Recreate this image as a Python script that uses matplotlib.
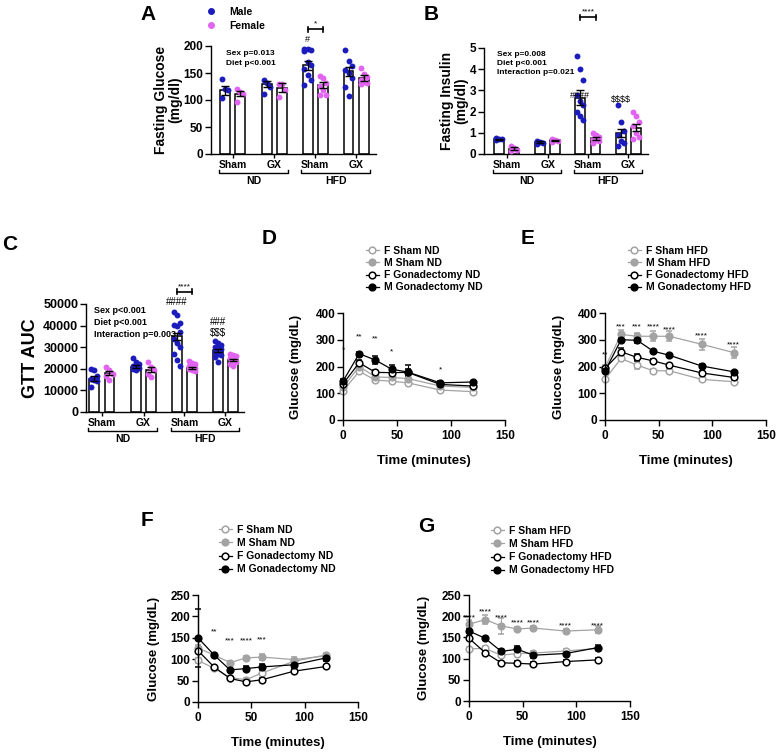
import numpy as np
import matplotlib
matplotlib.use('Agg')
import matplotlib.pyplot as plt
import matplotlib.transforms as mtransforms
from matplotlib.lines import Line2D

plt.rcParams['font.family'] = ['Liberation Sans', 'DejaVu Sans']
plt.rcParams['font.weight'] = 'bold'
plt.rcParams['axes.labelweight'] = 'bold'
plt.rcParams['axes.linewidth'] = 1.0
plt.rcParams['text.parse_math'] = False

W, H = 777, 754
MALE = '#1c1cbd'
FEMALE = '#e164f0'
GREY = '#a3a3a3'

# ---- bar panels (order: ND Sham, ND GX, HFD Sham, HFD GX)
group_labels = ['Sham', 'GX', 'Sham', 'GX']
diet_labels = ['ND', 'HFD']

glucose_m = [118, 130, 164, 153]
glucose_m_err = [8, 6, 8, 9]
glucose_f = [112, 123, 128, 141]
glucose_f_err = [5, 8, 6, 6]
glucose_m_pts = [[138, 121, 118, 103], [137, 131, 125, 112],
                 [195, 194, 193, 190, 171, 165, 157, 146, 137, 128],
                 [192, 172, 163, 156, 150, 140, 125, 108]]
glucose_f_pts = [[121, 115, 112, 97], [130, 130, 118, 106],
                 [145, 140, 131, 126, 118, 110, 110],
                 [160, 148, 142, 137, 133, 131, 129]]

insulin_m = [0.70, 0.55, 2.65, 1.00]
insulin_m_err = [0.03, 0.04, 0.35, 0.2]
insulin_f = [0.25, 0.65, 0.75, 1.25]
insulin_f_err = [0.06, 0.03, 0.07, 0.15]
insulin_m_pts = [[0.75, 0.72, 0.70, 0.65], [0.60, 0.55, 0.50, 0.45],
                 [4.6, 4.0, 3.5, 2.8, 2.5, 2.3, 2.0, 1.8, 1.6],
                 [2.3, 1.5, 1.1, 0.9, 0.6, 0.5, 0.4]]
insulin_f_pts = [[0.40, 0.30, 0.18, 0.12], [0.70, 0.66, 0.62, 0.58],
                 [1.0, 0.9, 0.8, 0.7, 0.65, 0.6, 0.5],
                 [2.0, 1.8, 1.5, 1.3, 1.0, 0.8, 0.7]]

auc_m = [15500, 21000, 35000, 28500]
auc_m_err = [1200, 600, 1800, 700]
auc_f = [18000, 19500, 20500, 24000]
auc_f_err = [1000, 1200, 500, 600]
auc_m_pts = [[20000, 19500, 16500, 15500, 15000, 14500, 11500],
             [25000, 23000, 22000, 21500, 21000, 20500, 20000, 19500],
             [46500, 45000, 41000, 40500, 40000, 37000, 34000, 32000, 30000, 27000, 24000, 21500],
             [33000, 32000, 31000, 30000, 29500, 29000, 28000, 27000, 26500, 25500, 23000]]
auc_f_pts = [[21000, 19500, 17500, 16500, 15000],
             [23000, 21000, 19500, 17500, 16000],
             [23500, 22500, 22000, 21500, 21000, 20500, 20000, 19500, 19000],
             [27000, 26500, 26000, 25000, 24000, 23000, 22000, 21500]]

# ---- time courses
time_min = [0, 15, 30, 45, 60, 90, 120]
nd_labels = ['F Sham ND', 'M Sham ND', 'F Gonadectomy ND', 'M Gonadectomy ND']
hfd_labels = ['F Sham HFD', 'M Sham HFD', 'F Gonadectomy HFD', 'M Gonadectomy HFD']

gtt_nd = [[108, 182, 149, 145, 139, 112, 106],
          [122, 200, 161, 159, 155, 127, 122],
          [135, 214, 178, 177, 178, 133, 127],
          [145, 248, 224, 190, 179, 139, 142]]
gtt_nd_err = [[8, 8, 8, 8, 8, 6, 6],
              [10, 10, 10, 8, 8, 8, 6],
              [8, 10, 10, 10, 12, 8, 6],
              [10, 8, 15, 15, 25, 8, 5]]
gtt_nd_stars = [(0, '*', 262), (15, '**', 312), (30, '**', 303), (45, '*', 255), (90, '*', 186)]

gtt_hfd = [[152, 230, 205, 184, 184, 152, 143],
           [196, 320, 313, 313, 313, 283, 252],
           [193, 255, 234, 221, 205, 176, 159],
           [183, 300, 298, 257, 242, 202, 180]]
gtt_hfd_err = [[6, 8, 15, 6, 6, 6, 6],
               [8, 15, 12, 18, 18, 20, 20],
               [6, 15, 12, 8, 6, 6, 6],
               [8, 8, 12, 6, 6, 6, 5]]
gtt_hfd_stars = [(0, '**', 245), (15, '***', 348), (30, '***', 348), (45, '****', 348),
                 (60, '****', 338), (90, '****', 314), (120, '****', 282)]

itt_nd = [[97, 79, 57, 52, 68, 95, 110],
          [126, 110, 92, 103, 105, 99, 108],
          [120, 82, 55, 47, 52, 72, 83],
          [150, 110, 75, 78, 82, 87, 103]]
itt_nd_err = [[6, 5, 4, 4, 5, 5, 5],
              [8, 5, 4, 4, 6, 6, 5],
              [6, 5, 4, 4, 4, 4, 4],
              [68, 5, 5, 6, 7, 5, 8]]
itt_nd_stars = [(15, '**', 163), (30, '***', 143), (45, '****', 143), (60, '***', 145)]

itt_hfd = [[123, 124, 108, 112, 113, 118, 124],
           [181, 192, 177, 170, 172, 165, 168],
           [148, 114, 90, 89, 87, 93, 97],
           [165, 148, 117, 122, 108, 112, 126]]
itt_hfd_err = [[5, 5, 5, 5, 5, 4, 5],
               [10, 10, 18, 5, 5, 4, 8],
               [5, 4, 4, 5, 5, 4, 5],
               [5, 4, 6, 7, 6, 5, 5]]
itt_hfd_stars = [(0, '****', 197), (15, '****', 210), (30, '****', 197), (45, '****', 184),
                 (60, '****', 184), (90, '****', 176), (120, '****', 178)]

m_x = np.array([0, 2.7, 5.35, 8.0])
f_x = m_x + 1


def px_axes(x0, x1, y0, y1):
    return [x0 / W, 1 - y1 / H, (x1 - x0) / W, (y1 - y0) / H]


def fpos(x, y):
    return x / W, 1 - y / H


def bar_panel(ax, m, m_err, f, f_err, m_pts, f_pts, ymax, ystep, xlim, h_px):
    ax.bar(m_x, m, width=0.64, color='white', edgecolor='black', lw=1.1, zorder=1)
    ax.bar(f_x, f, width=0.64, color='white', edgecolor='black', lw=1.1, zorder=1)
    for xs, pts_list, col in ((m_x, m_pts, MALE), (f_x, f_pts, FEMALE)):
        for x, pts in zip(xs, pts_list):
            off = ((np.arange(len(pts)) % 3) - 1) * 0.2
            ax.scatter(x + off, pts, s=18, color=col, lw=0, zorder=3)
    ax.errorbar(m_x, m, yerr=m_err, fmt='none', ecolor='black', elinewidth=1, capsize=3, capthick=1, zorder=4)
    ax.errorbar(f_x, f, yerr=f_err, fmt='none', ecolor='black', elinewidth=1, capsize=3, capthick=1, zorder=4)
    ax.set_xlim(*xlim)
    ax.set_ylim(0, ymax)
    ax.set_yticks(np.arange(0, ymax + ystep / 2, ystep))
    ax.set_xticks((m_x + f_x) / 2)
    ax.set_xticklabels(group_labels, fontsize=7.5)
    ax.tick_params(axis='x', length=3, pad=1.5, width=1)
    ax.tick_params(axis='y', length=4, pad=1.5, width=1, labelsize=8.5)
    ax.spines['top'].set_visible(False)
    ax.spines['right'].set_visible(False)
    trans = mtransforms.blended_transform_factory(ax.transData, ax.transAxes)
    yb = -18.5 / h_px
    for i, d in enumerate(diet_labels):
        x0 = m_x[2 * i] - 0.4
        x1 = f_x[2 * i + 1] + 0.4
        ax.plot([x0, x0, x1, x1], [yb + 3 / h_px, yb, yb, yb + 3 / h_px], transform=trans,
                clip_on=False, color='black', lw=1)
        ax.text((x0 + x1) / 2, yb - 3.5 / h_px, d, transform=trans, ha='center', va='top', fontsize=7.5)


def sig_bracket(ax, x0, x1, y, txt, h_px, ymax, fs=6):
    d = 2.5 / h_px * ymax
    kw = dict(color='black', lw=1.2, clip_on=False)
    ax.plot([x0, x1], [y, y], **kw)
    ax.plot([x0, x0], [y - d, y + d], **kw)
    ax.plot([x1, x1], [y - d, y + d], **kw)
    ax.text((x0 + x1) / 2, y + d * 0.6, txt, ha='center', va='bottom', fontsize=fs, fontweight='normal')


def line_panel(ax, ys, errs, labels, stars, ymax, ystep, leg_xy, leg_space):
    styles = [(GREY, 'white'), (GREY, GREY), ('black', 'white'), ('black', 'black')]
    handles = []
    for y, e, (c, fc), lab in zip(ys, errs, styles, labels):
        ax.errorbar(time_min, y, yerr=e, color=c, lw=0.9, marker='o', ms=4.8, mfc=fc, mec=c,
                    mew=1.1, capsize=2.5, elinewidth=0.8, capthick=0.8, clip_on=False)
        handles.append(Line2D([], [], color=c, lw=0.9, marker='o', ms=4.8, mfc=fc, mec=c,
                              mew=1.1, label=lab))
    for t, s, yv in stars:
        ax.text(t, yv, s, ha='center', va='center', fontsize=6, fontweight='normal')
    ax.set_xlim(0, 150)
    ax.set_ylim(0, ymax)
    ax.set_xticks([0, 50, 100, 150])
    ax.set_yticks(np.arange(0, ymax + ystep / 2, ystep))
    ax.tick_params(length=4, width=1, labelsize=8.5)
    ax.tick_params(axis='x', pad=3)
    ax.tick_params(axis='y', pad=1.5)
    ax.spines['top'].set_visible(False)
    ax.spines['right'].set_visible(False)
    ax.set_ylabel('Glucose (mg/dL)', fontsize=9.5)
    ax.set_xlabel('Time (minutes)', fontsize=9.5)
    ax.legend(handles=handles, loc='upper left', bbox_to_anchor=fpos(*leg_xy),
              bbox_transform=fig.transFigure, frameon=False, fontsize=7.5,
              handlelength=1.2, handletextpad=0.5, labelspacing=leg_space,
              borderpad=0, borderaxespad=0)


fig = plt.figure(figsize=(W / 100, H / 100), dpi=100)

# A
axA = fig.add_axes(px_axes(211, 376, 46, 154))
bar_panel(axA, glucose_m, glucose_m_err, glucose_f, glucose_f_err, glucose_m_pts, glucose_f_pts,
          200, 50, (-0.9, 9.78), 108)
axA.set_ylabel('Fasting Glucose\n(mg/dl)', fontsize=10, linespacing=1.0)
axA.yaxis.set_label_coords(-0.176, 0.5)
axA.text(0.09, 0.96, 'Sex p=0.013\nDiet p<0.001', transform=axA.transAxes, fontsize=6,
         va='top', linespacing=1.45)
axA.text(m_x[2], 212, '#', ha='center', va='center', fontsize=6.5, fontweight='normal')
sig_bracket(axA, m_x[2], f_x[2], 231, '*', 108, 200)
leg_h = [Line2D([], [], ls='none', marker='o', ms=4, mfc=MALE, mec=MALE, label='Male'),
         Line2D([], [], ls='none', marker='o', ms=4, mfc=FEMALE, mec=FEMALE, label='Female')]
axA.legend(handles=leg_h, loc='upper left', bbox_to_anchor=fpos(204, 7),
           bbox_transform=fig.transFigure, frameon=False, fontsize=7.5, handlelength=1.4,
           handletextpad=1.0, labelspacing=0.35, borderpad=0, borderaxespad=0)

# B
axB = fig.add_axes(px_axes(484, 648, 48, 154))
bar_panel(axB, insulin_m, insulin_m_err, insulin_f, insulin_f_err, insulin_m_pts, insulin_f_pts,
          5, 1, (-0.99, 9.8), 106)
axB.set_ylabel('Fasting Insulin\n(mg/dl)', fontsize=10, linespacing=1.0)
axB.yaxis.set_label_coords(-0.095, 0.5)
axB.text(0.08, 0.975, 'Sex p=0.008\nDiet p<0.001\nInteraction p=0.021', transform=axB.transAxes,
         fontsize=6, va='top', linespacing=1.45)
axB.text(m_x[2], 2.75, '####', ha='center', va='center', fontsize=6.5, fontweight='normal')
axB.text(m_x[3], 2.55, '$$$$', ha='center', va='center', fontsize=6.5, fontweight='normal')
sig_bracket(axB, m_x[2], f_x[2], 6.46, '****', 106, 5)

# C
axC = fig.add_axes(px_axes(86, 244, 304, 412))
bar_panel(axC, auc_m, auc_m_err, auc_f, auc_f_err, auc_m_pts, auc_f_pts,
          50000, 10000, (-0.52, 9.7), 108)
axC.set_ylabel('GTT AUC', fontsize=13)
axC.yaxis.set_label_coords(-0.30, 0.5)
axC.tick_params(axis='y', labelsize=9)
axC.text(0.05, 0.98, 'Sex p<0.001\nDiet p<0.001\nInteraction p=0.003', transform=axC.transAxes,
         fontsize=6.5, va='top', linespacing=1.45)
axC.text(m_x[2], 50700, '####', ha='center', va='center', fontsize=7, fontweight='normal')
axC.text(m_x[3], 41500, '###', ha='center', va='center', fontsize=7, fontweight='normal')
axC.text(m_x[3], 36800, '$$$', ha='center', va='center', fontsize=7, fontweight='normal')
sig_bracket(axC, m_x[2], f_x[2], 55700, '****', 108, 50000)

# D, E, F, G
axD = fig.add_axes(px_axes(343, 505, 313, 420))
line_panel(axD, gtt_nd, gtt_nd_err, nd_labels, gtt_nd_stars, 400, 100, (366, 246), 0.2)
axE = fig.add_axes(px_axes(605, 766, 313, 420))
line_panel(axE, gtt_hfd, gtt_hfd_err, hfd_labels, gtt_hfd_stars, 400, 100, (628, 246), 0.2)
axF = fig.add_axes(px_axes(198, 358, 595, 702))
line_panel(axF, itt_nd, itt_nd_err, nd_labels, itt_nd_stars, 250, 50, (219, 525), 0.3)
axG = fig.add_axes(px_axes(469, 630, 595, 701))
line_panel(axG, itt_hfd, itt_hfd_err, hfd_labels, itt_hfd_stars, 250, 50, (491, 526), 0.3)

for ax, lx in ((axD, -0.25), (axE, -0.248), (axF, -0.24), (axG, -0.24)):
    ax.yaxis.set_label_coords(lx, 0.5)
    ax.xaxis.set_label_coords(0.5, -0.33)

for letter, x, y in (('A', 148, 15), ('B', 431, 15), ('C', 10, 245), ('D', 269, 239),
                     ('E', 528, 239), ('F', 147, 521), ('G', 426, 527)):
    fig.text(*fpos(x, y), letter, fontsize=15, fontweight='bold', ha='center', va='center')

fig.savefig('out.png', dpi=100)
